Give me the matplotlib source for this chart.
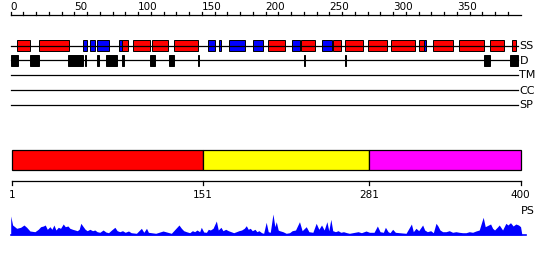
import matplotlib
matplotlib.use("Agg")
import matplotlib.pyplot as plt
from matplotlib.patches import Rectangle

# longueur de la séquence
seq_len = 400

# structure secondaire (H = hélice, E = brin)
ss_start = [5, 22, 57, 62, 68, 85, 87, 96, 111, 128, 155, 163, 171, 190, 202,
            221, 228, 244, 253, 262, 280, 298, 320, 324, 331, 352, 376, 393]
ss_end = [15, 46, 60, 66, 77, 87, 92, 109, 123, 147, 160, 165, 184, 198, 215,
          227, 239, 252, 259, 276, 295, 317, 324, 326, 347, 371, 387, 396]
ss_type = ["H", "H", "E", "E", "E", "E", "H", "H", "H", "H", "E", "E", "E", "E", "H",
           "E", "H", "E", "H", "H", "H", "H", "H", "E", "H", "H", "H", "H"]

# régions désordonnées
d_start = [0, 15, 45, 58, 68, 75, 87, 109, 124, 147, 230, 262, 371, 392]
d_end = [6, 22, 57, 59, 69.5, 83.5, 89, 113, 128, 148, 231, 263, 376, 398]

# domaines
dom_bounds = [1, 151, 281, 400]
dom_colors = ["#ff0000", "#ffff00", "#ff00ff"]

# profil PS (résidu, hauteur)
ps_res = [0, 1.5, 4.7, 7.8, 10.4, 12.5, 15.1, 19, 21.6, 23.5, 25.6, 27.1, 28.7,
          30.8, 32.3, 33.9, 35.5, 37.3, 39.1, 41.2, 42.8, 44.9, 46.4, 48.5, 50.4,
          52.2, 53.7, 55, 56.9, 58.4, 60, 62.1, 64.2, 66, 67.8, 69.9, 72.5, 74.6,
          76.7, 79.1, 81.7, 83.5, 85.6, 87.7, 89.8, 92.4, 94.5, 98.6, 102.5, 104.4,
          106.5, 108, 113.8, 119.5, 126, 132, 133.9, 135.7, 137.8, 140.4, 142.5,
          144.3, 146.1, 148.2, 149.5, 151.4, 153.5, 155, 156.6, 158.7, 161.3, 162.8,
          164.9, 166.5, 168.6, 170.7, 172.8, 174.9, 177, 179, 181.1, 183.2, 184.8,
          186.3, 187.9, 189.5, 191.6, 193.1, 194.7, 196.8, 198.4, 200.4, 202, 203.6,
          205.7, 207.2, 208.3, 209.8, 210.9, 213.5, 216.1, 218.7, 220.8, 223.4,
          226.5, 228.6, 231.8, 233.9, 237, 239.6, 241.7, 243.8, 245.9, 248, 249.5,
          251.1, 252.6, 254.7, 256.8, 258.9, 261, 263.6, 265.7, 269.9, 272.5, 275.1,
          278.7, 281.4, 285, 287.6, 289.7, 292.3, 293.9, 296, 297.5, 299.6, 301.7,
          304.9, 310.1, 314.3, 315.8, 317.9, 320, 323.1, 324.7, 326.8, 329.4, 331.5,
          333.6, 335.1, 336.7, 338.8, 341.4, 344, 346.6, 349.2, 351.8, 354.4, 357.1,
          359.7, 362.3, 364.9, 367.5, 370.6, 372.2, 374.8, 376.4, 378, 379.5, 381.6,
          383.2, 385.8, 388.4, 390, 392, 394.1, 396.2, 398.3, 399.9, 401]
ps_val = [19, 10, 6.7, 7.7, 10, 7.7, 4, 3.3, 5.7, 8.3, 9, 10, 5.7,
          8.3, 5.7, 10, 5, 7.7, 6.7, 11, 8.3, 9, 6.7, 5.7, 5,
          4.3, 5.7, 11.7, 8.3, 5.7, 4.3, 5.7, 4.3, 5, 3.3, 2.7, 5, 3,
          2.3, 5, 7.7, 4.3, 3.3, 4.3, 2.7, 4, 2.3, 1.7, 6.7, 2.7,
          6.7, 2.7, 1.7, 4, 1.7, 10, 6.7, 4.3, 3.3, 2.3, 4.3,
          3.3, 5, 3.3, 7.7, 3, 2.7, 5.7, 5, 6.7, 14, 5,
          7.7, 4.3, 5.7, 4.3, 3.3, 2.3, 3.3, 4.3, 5, 6.7, 9.3,
          5.7, 6.7, 4.3, 5.7, 3.3, 4.3, 2.3, 1.7, 12.7, 3.3, 2.7,
          21, 8.3, 13.3, 5, 4.3, 3.3, 1.7, 2.3, 4.3, 5,
          13.3, 4.3, 8.3, 3.3, 2.7, 11.7, 5.7, 10, 5, 13.3, 4.3,
          15.7, 4.3, 3.3, 4.3, 2.7, 3.3, 2.3, 1.7, 2.7, 3.3, 2.3,
          4, 2.7, 2.7, 9, 3.3, 2.7, 7.7, 3.3, 2.3, 5.7, 2.7,
          2.3, 1.7, 11, 3.3, 6.7, 4.3, 10, 5, 3.3, 4.3, 2.3,
          11.7, 9, 5, 3.3, 3.3, 4.3, 2.7, 3.3, 2.7, 2.3, 2.3,
          3.3, 2.7, 4, 5, 17.7, 8.3, 10, 11, 6.7, 5, 7.7,
          10, 5, 11.7, 10, 12.3, 9, 11, 10, 8.3, 0]

fig = plt.figure(figsize=(5.5, 2.6), dpi=100)
ax = fig.add_axes([0, 0, 1, 1])
ax.set_xlim(-8.4, 423)
ax.set_ylim(260, 0)
ax.axis("off")

# règle du haut
ax.plot([0, seq_len], [15, 15], color="black", lw=0.9)
for t in range(0, seq_len, 10):
    ax.plot([t, t], [15, 11.5], color="black", lw=0.9)
    if t % 50 == 0:
        ax.text(t, 10.5, str(t), fontsize=7.5, ha="left", va="baseline")

# lignes des pistes
rows = {"SS": 45.5, "D": 60, "TM": 75, "CC": 90, "SP": 105}
for name, y in rows.items():
    ax.plot([0, 398], [y, y], color="black", lw=0.9)
    ax.text(399, y + 0.5, name, fontsize=8, ha="left", va="center")

# boîtes SS
for s, e, t in zip(ss_start, ss_end, ss_type):
    c = "#ff0000" if t == "H" else "#0000ff"
    ax.add_patch(Rectangle((s, 40), e - s, 10.7, facecolor=c, edgecolor="black", lw=0.7))

# boîtes D
for s, e in zip(d_start, d_end):
    ax.add_patch(Rectangle((s, 55), e - s, 10.7, facecolor="black", edgecolor="black", lw=0.7))

# barre des domaines
for i in range(len(dom_colors)):
    ax.add_patch(Rectangle((dom_bounds[i], 150), dom_bounds[i + 1] - dom_bounds[i], 20,
                           facecolor=dom_colors[i], edgecolor="black", lw=0.9))
ax.plot([dom_bounds[0], dom_bounds[-1]], [180.7, 180.7], color="black", lw=0.9)
for b in dom_bounds:
    ax.plot([b, b], [180.7, 185], color="black", lw=0.9)
    ax.text(b, 195, str(b), fontsize=7.5, ha="center", va="center")

# profil PS
ax.fill_between(ps_res, 235, [235 - v for v in ps_val], color="#0000ff", lw=0)
ax.plot([0, 404], [235, 235], color="#0000ff", lw=1.2)
ax.text(400.5, 211, "PS", fontsize=8, ha="left", va="center")

fig.savefig("out.png", dpi=100)
